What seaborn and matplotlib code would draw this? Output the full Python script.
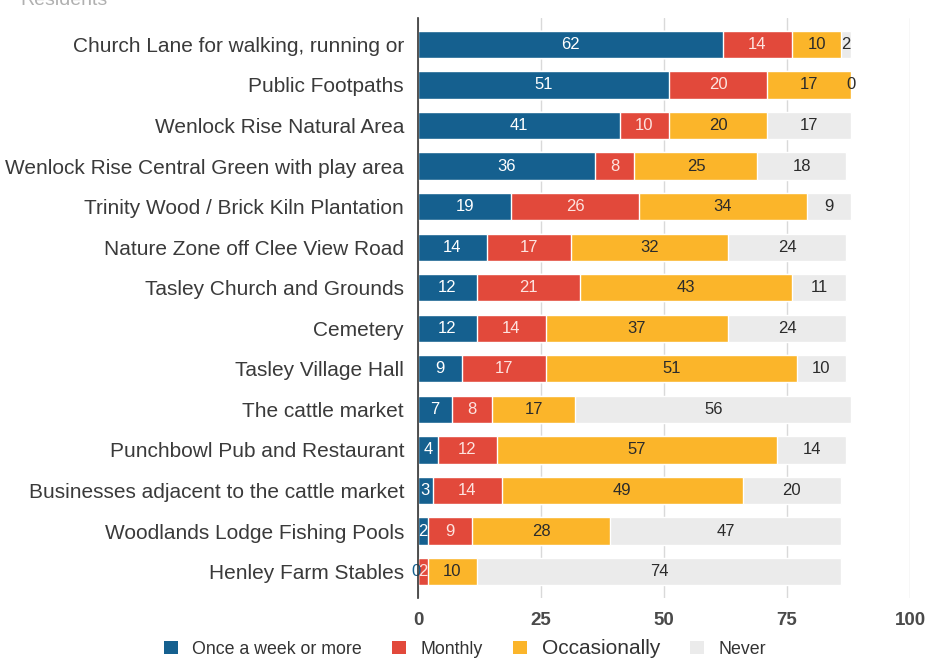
import numpy as np
import pandas as pd
import matplotlib
matplotlib.use("Agg")
import matplotlib.pyplot as plt
from matplotlib.patches import Patch
import seaborn as sns

# Survey: how often residents use local places
places = [
    "Church Lane for walking, running or",
    "Public Footpaths",
    "Wenlock Rise Natural Area",
    "Wenlock Rise Central Green with play area",
    "Trinity Wood / Brick Kiln Plantation",
    "Nature Zone off Clee View Road",
    "Tasley Church and Grounds",
    "Cemetery",
    "Tasley Village Hall",
    "The cattle market",
    "Punchbowl Pub and Restaurant",
    "Businesses adjacent to the cattle market",
    "Woodlands Lodge Fishing Pools",
    "Henley Farm Stables",
]
weekly = [62, 51, 41, 36, 19, 14, 12, 12, 9, 7, 4, 3, 2, 0]
monthly = [14, 20, 10, 8, 26, 17, 21, 14, 17, 8, 12, 14, 9, 2]
occasionally = [10, 17, 20, 25, 34, 32, 43, 37, 51, 17, 57, 49, 28, 10]
never = [2, 0, 17, 18, 9, 24, 11, 24, 10, 56, 14, 20, 47, 74]

series_names = ["Once a week or more", "Monthly", "Occasionally", "Never"]
colors = ["#15608f", "#e2493b", "#fbb52a", "#ebebeb"]
label_colors = ["#ffffff", "#fde3df", "#2b2b2b", "#2b2b2b"]

vals = np.array([weekly, monthly, occasionally, never], dtype=float)
cum = np.cumsum(vals, axis=0)

df = pd.DataFrame({"place": places})
for i in range(4):
    df[f"cum{i}"] = cum[i]

sns.set_theme(style="white")
plt.rcParams["font.family"] = ["Liberation Sans", "DejaVu Sans"]

fig = plt.figure(figsize=(9.29, 6.60), dpi=100)
W, H = 929, 660
ax = fig.add_axes([418 / W, 1 - 598 / H, (910 - 418) / W, (598 - 18) / H])

# stacked bars: draw running totals from largest to smallest
for i in range(3, -1, -1):
    sns.barplot(data=df, x=f"cum{i}", y="place", orient="h", color=colors[i],
                saturation=1, width=0.67, ax=ax, zorder=2)

# value labels centred in each segment
for j in range(len(places)):
    for i in range(4):
        start = cum[i, j] - vals[i, j]
        cx = start + vals[i, j] / 2
        col = label_colors[i]
        if vals[i, j] == 0:
            col = colors[i] if i == 0 else "#2b2b2b"
            if i == 0:
                cx -= 0.4
        ax.text(cx, j, f"{int(vals[i, j])}", ha="center", va="center",
                fontsize=12, color=col, zorder=5)

ax.set_xlim(0, 100)
ax.set_ylim(13.65, -0.65)
ax.set_xticks([0, 25, 50, 75, 100])
ax.set_xticklabels(["0", "25", "50", "75", "100"], fontsize=13.5,
                   color="#4a4a4a", fontweight="bold")
ax.tick_params(axis="x", length=0, pad=10)
ax.tick_params(axis="y", length=0, pad=10, labelsize=15, labelcolor="#3a3a3a")
ax.set_xlabel("")
ax.set_ylabel("")
ax.grid(axis="x", color="#d9d9d9", linewidth=1, zorder=0)
ax.set_axisbelow(True)
for s in ["top", "right", "bottom"]:
    ax.spines[s].set_visible(False)
ax.spines["left"].set_color("#333333")
ax.spines["left"].set_linewidth(1.2)
ax.spines["left"].set_zorder(6)

# title, mostly above the visible area
fig.text(20 / W, 1 - 5 / H, "Residents", fontsize=14, color="#b0b0b0",
         ha="left", va="baseline")

handles = [Patch(facecolor=c, edgecolor="none") for c in colors]
leg = fig.legend(handles, series_names, loc="center", ncol=4,
                 bbox_to_anchor=(465 / W, 1 - 648 / H), frameon=False,
                 fontsize=12.8, handlelength=0.8, handleheight=0.8,
                 handletextpad=0.8, columnspacing=1.7, labelcolor="#333333")
for t in leg.get_texts():
    if t.get_text() == "Occasionally":
        t.set_fontsize(15)

fig.savefig("out.png", dpi=100)
